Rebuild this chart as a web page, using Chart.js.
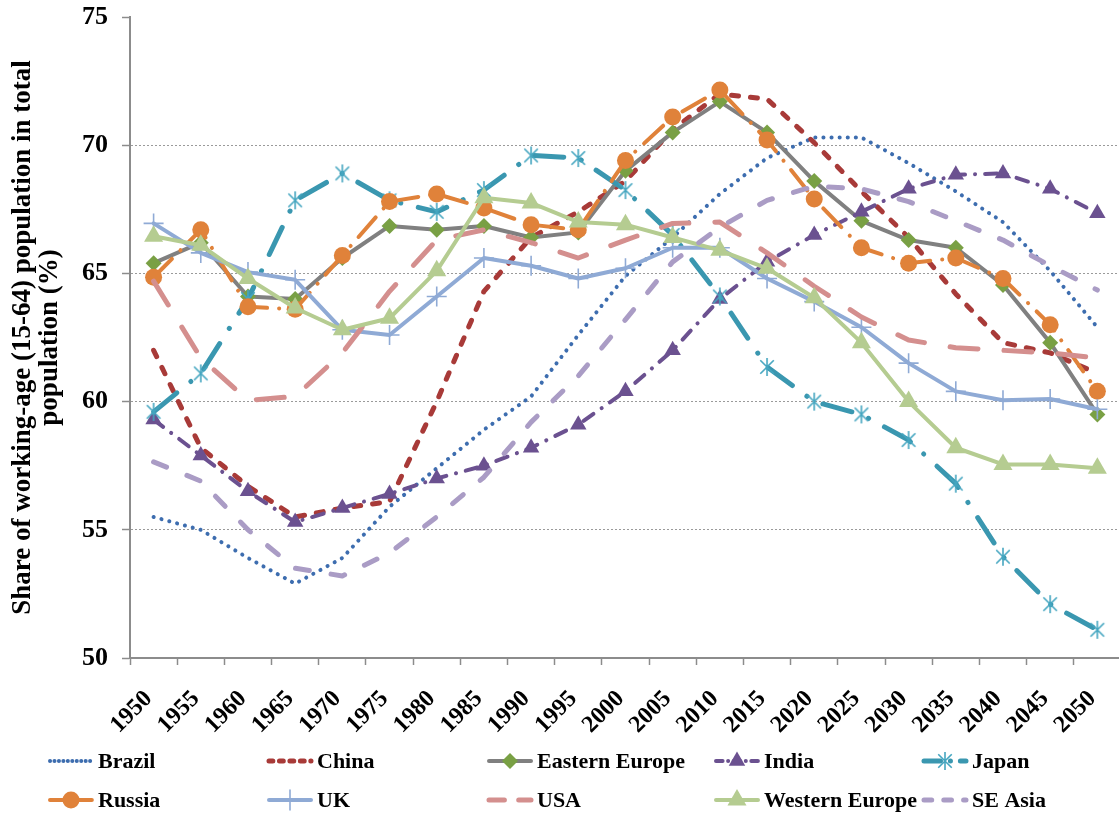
<!DOCTYPE html>
<html>
<head>
<meta charset="utf-8">
<title>Working-age population share</title>
<script src="https://cdn.jsdelivr.net/npm/chart.js@4.4.1/dist/chart.umd.min.js"></script>
<style>
  html, body { margin: 0; padding: 0; background: #fff; overflow: hidden; }
  #wrap { position: relative; width: 1138px; height: 814px; }
</style>
</head>
<body>
<div id="wrap"><canvas id="chart"></canvas></div>
<script>
(function () {
  'use strict';

  var YEARS = ['1950', '1955', '1960', '1965', '1970', '1975', '1980', '1985', '1990', '1995', '2000',
    '2005', '2010', '2015', '2020', '2025', '2030', '2035', '2040', '2045', '2050'];
  var Y_TICKS = [50, 55, 60, 65, 70, 75];
  var SERIES_NAMES = ['Brazil', 'China', 'Eastern Europe', 'India', 'Japan',
    'Russia', 'UK', 'USA', 'Western Europe', 'SE Asia'];

  var brazil = [55.5, 55.0, 53.9, 52.9, 53.9, 55.9, 57.4, 58.9, 60.2, 62.6, 64.9, 66.4, 68.1, 69.5, 70.3, 70.3, 69.3, 68.2, 67.0, 65.1, 62.9];
  var china = [62.0, 58.2, 56.7, 55.5, 55.85, 56.1, 60.0, 64.3, 66.4, 67.4, 68.6, 70.6, 72.0, 71.8, 70.1, 68.2, 66.4, 64.2, 62.3, 61.9, 61.1];
  var easternEurope = [65.4, 66.2, 64.1, 64.0, 65.6, 66.85, 66.7, 66.85, 66.4, 66.6, 69.0, 70.5, 71.7, 70.5, 68.6, 67.05, 66.3, 66.0, 64.55, 62.3, 59.5];
  var india = [59.3, 57.9, 56.5, 55.3, 55.85, 56.4, 57.0, 57.5, 58.2, 59.1, 60.4, 62.0, 64.0, 65.45, 66.5, 67.4, 68.3, 68.85, 68.9, 68.3, 67.35];
  var japan = [59.6, 61.1, 64.0, 67.85, 68.9, 67.85, 67.4, 68.25, 69.6, 69.5, 68.25, 66.5, 64.1, 61.35, 60.0, 59.5, 58.5, 56.8, 53.95, 52.1, 51.1];
  var russia = [64.85, 66.7, 63.7, 63.6, 65.7, 67.8, 68.1, 67.55, 66.9, 66.7, 69.4, 71.1, 72.15, 70.2, 67.9, 66.0, 65.4, 65.6, 64.8, 63.0, 60.4];
  var uk = [66.95, 65.8, 65.05, 64.75, 62.8, 62.6, 64.1, 65.6, 65.3, 64.8, 65.2, 66.0, 66.0, 64.8, 63.9, 62.9, 61.5, 60.4, 60.05, 60.1, 59.7];
  var usa = [64.7, 61.7, 60.05, 60.2, 61.9, 64.3, 66.3, 66.7, 66.2, 65.6, 66.3, 66.95, 67.0, 65.8, 64.5, 63.3, 62.4, 62.1, 62.0, 61.9, 61.7];
  var westernEurope = [66.45, 66.1, 64.8, 63.65, 62.8, 63.25, 65.1, 67.95, 67.75, 67.0, 66.9, 66.4, 65.9, 65.2, 64.05, 62.3, 60.0, 58.2, 57.55, 57.55, 57.4];
  var seAsia = [57.65, 56.9, 55.0, 53.5, 53.2, 54.1, 55.5, 57.05, 59.2, 61.0, 63.2, 65.45, 66.8, 67.85, 68.4, 68.3, 67.8, 67.05, 66.3, 65.3, 64.35];

  var FONT = '"Liberation Serif", "Times New Roman", serif';

  // six-armed asterisk used for Japan
  function makeAsterisk(color, r) {
    var c = document.createElement('canvas');
    var s = Math.ceil(r * 2 + 4);
    c.width = s; c.height = s;
    var g = c.getContext('2d');
    var m = s / 2;
    g.strokeStyle = color;
    g.lineWidth = 1.6;
    g.beginPath();
    g.moveTo(m, m - r); g.lineTo(m, m + r);
    g.moveTo(m - r * 0.75, m - r * 0.75); g.lineTo(m + r * 0.75, m + r * 0.75);
    g.moveTo(m + r * 0.75, m - r * 0.75); g.lineTo(m - r * 0.75, m + r * 0.75);
    g.stroke();
    return c;
  }
  var asterisk = makeAsterisk('#45A6C0', 9);

  function ds(label, data, color, width, dash, style, radius, markColor) {
    return {
      label: label,
      data: data,
      borderColor: color,
      borderWidth: width,
      borderDash: dash,
      borderCapStyle: 'round',
      borderJoinStyle: 'round',
      pointStyle: style || 'circle',
      pointRadius: style ? radius : 0,
      pointHoverRadius: style ? radius : 0,
      pointBackgroundColor: markColor || color,
      pointBorderColor: markColor || color,
      pointBorderWidth: style === 'cross' ? 1.6 : 0,
      tension: 0,
      fill: false
    };
  }

  var datasets = [
    ds(SERIES_NAMES[0], brazil, '#3D6DAF', 4, [0.1, 8], null, 0),
    ds(SERIES_NAMES[1], china, '#A83A38', 5, [7, 12], null, 0),
    ds(SERIES_NAMES[2], easternEurope, '#808080', 4, [], 'rectRot', 8, '#79A044'),
    ds(SERIES_NAMES[3], india, '#6B5190', 4, [12, 10, 0.1, 10], 'triangle', 9.5),
    ds(SERIES_NAMES[4], japan, '#3A97B0', 5, [30, 18, 0.1, 18], asterisk, 9),
    ds(SERIES_NAMES[5], russia, '#E0823A', 4, [26, 12, 0.1, 12], 'circle', 8.5),
    ds(SERIES_NAMES[6], uk, '#8FAAD5', 4, [], 'cross', 10),
    ds(SERIES_NAMES[7], usa, '#D48F8E', 5, [28, 26], null, 0),
    ds(SERIES_NAMES[8], westernEurope, '#B5CC91', 4, [], 'triangle', 11),
    ds(SERIES_NAMES[9], seAsia, '#AA9CC5', 5, [14, 22], null, 0)
  ];
  // later series sit on top, as in the original
  datasets.forEach(function (d, i) { d.order = datasets.length - i; });

  // legend laid out in a fixed 5-column grid under the axis
  var LEG_COLS = [48, 267, 487, 714, 922];
  var LEG_ROWS = [761, 800];
  var legendPlugin = {
    id: 'gridLegend',
    afterDraw: function (chart) {
      var ctx = chart.ctx;
      chart.data.datasets.forEach(function (d, i) {
        var x = LEG_COLS[i % 5], y = LEG_ROWS[Math.floor(i / 5)];
        ctx.save();
        ctx.strokeStyle = d.borderColor;
        ctx.lineWidth = d.borderWidth;
        ctx.lineCap = 'round';
        ctx.setLineDash(d.borderDash.length ? d.borderDash.map(function (v) { return v * 0.55; }) : []);
        ctx.beginPath();
        ctx.moveTo(x + 2, y);
        ctx.lineTo(x + 44, y);
        ctx.stroke();
        ctx.setLineDash([]);
        if (d.pointRadius) {
          ctx.fillStyle = d.pointBackgroundColor;
          ctx.strokeStyle = d.pointBorderColor;
          ctx.lineWidth = d.pointBorderWidth;
          Chart.helpers.drawPoint(ctx, {
            pointStyle: d.pointStyle, radius: d.pointRadius, rotation: 0, borderWidth: d.pointBorderWidth
          }, x + 23, y);
        }
        ctx.fillStyle = '#000';
        ctx.font = 'bold 22px ' + FONT;
        ctx.textBaseline = 'middle';
        ctx.textAlign = 'left';
        ctx.fillText(d.label, x + 50, y + 1);
        ctx.restore();
      });
    }
  };

  new Chart(document.getElementById('chart'), {
    type: 'line',
    data: { labels: YEARS, datasets: datasets },
    plugins: [legendPlugin],
    options: {
      responsive: true,
      maintainAspectRatio: false,
      animation: false,
      layout: { padding: { top: 17, right: 0, bottom: 74, left: 0 } },
      plugins: { legend: { display: false }, tooltip: { enabled: false } },
      scales: {
        x: {
          type: 'category',
          offset: true,
          afterFit: function (s) { s.height = 82; },
          grid: { offset: true, drawOnChartArea: false, drawTicks: true, tickLength: 7, tickColor: '#8c8c8c', tickWidth: 1.5 },
          border: { display: true, color: '#8c8c8c', width: 2 },
          ticks: {
            autoSkip: false, minRotation: 45, maxRotation: 45, padding: 20, labelOffset: -5, color: '#000',
            font: { family: FONT, size: 24, weight: 'bold' }
          }
        },
        y: {
          min: Y_TICKS[0],
          max: Y_TICKS[Y_TICKS.length - 1],
          afterFit: function (s) { s.width = 130; s.paddingTop = 0; s.paddingBottom = 0; },
          afterBuildTicks: function (s) { s.ticks = Y_TICKS.map(function (v) { return { value: v }; }); },
          grid: {
            drawTicks: true, tickLength: 8, tickColor: '#8c8c8c', tickWidth: 1.5, lineWidth: 1,
            color: function (c) {
              return (c.tick && (c.tick.value === Y_TICKS[0] || c.tick.value === Y_TICKS[Y_TICKS.length - 1])) ? 'rgba(0,0,0,0)' : '#9a9a9a';
            }
          },
          border: { display: true, color: '#8c8c8c', width: 2, dash: [2, 2] },
          ticks: { padding: 14, color: '#000', font: { family: FONT, size: 26, weight: 'bold' } },
          title: {
            display: true,
            text: ['Share of working-age (15-64) population in total', 'population (%)'],
            color: '#000',
            font: { family: FONT, size: 27, weight: 'bold', lineHeight: 1.0 },
            padding: { top: 10, bottom: 0 }
          }
        }
      }
    }
  });
})();
</script>
</body>
</html>
